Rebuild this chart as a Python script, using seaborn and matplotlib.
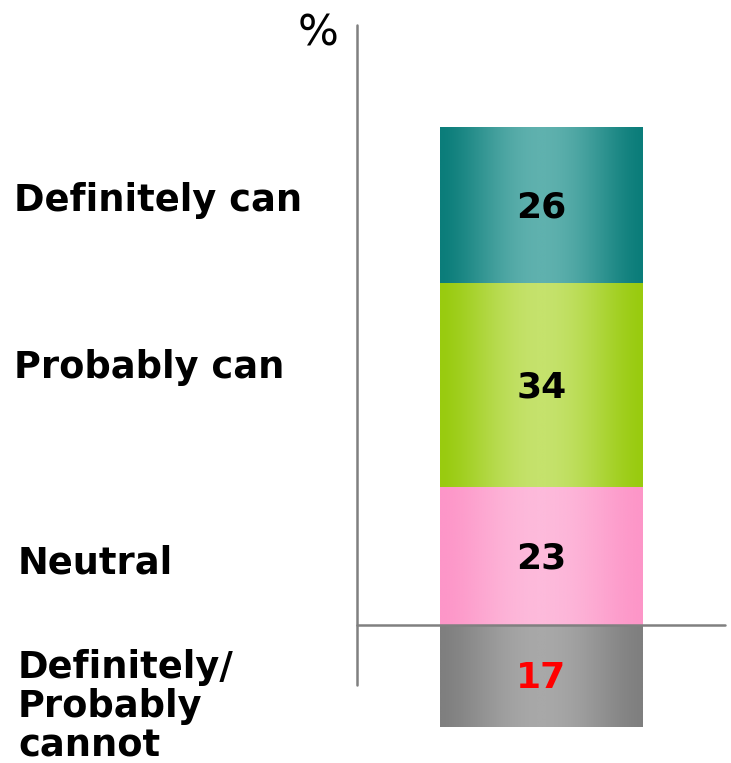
import matplotlib
matplotlib.use("Agg")
import matplotlib.pyplot as plt
import seaborn as sns
import numpy as np
from matplotlib.colors import LinearSegmentedColormap

# Data
categories = ["Definitely can", "Probably can", "Neutral", "Definitely/\nProbably\ncannot"]
values = [26, 34, 23, -17]
edge_colors = ["#0b7d7a", "#99cb0f", "#fd96c8", "#7f7f7f"]
mid_colors = ["#5fb1ae", "#c5e26c", "#fdbadb", "#a8a8a8"]
value_colors = ["black", "black", "black", "#ff0000"]
label_y = [70.8, 43.0, 10.3, -13.6]
label_x = [14, 14, 18, 18]

sns.set_style("white")
plt.rcParams["font.family"] = ["DejaVu Sans"]

fig = plt.figure(figsize=(7.31, 7.63), dpi=100)
ax = fig.add_axes([0, 0, 1, 1])

# stacked positions: positive stack from 0 upward (Neutral first), negative below
pos = [v for v in values if v > 0][::-1]          # Neutral, Probably, Definitely
cum = np.cumsum(pos)                               # 23, 57, 83
tops = list(cum[::-1]) + [values[3]]               # 83, 57, 23, -17
bottoms = list(np.concatenate([[0], cum[:-1]])[::-1]) + [0]

# draw bars largest first so smaller ones sit on top
for t, c in zip(tops, edge_colors):
    sns.barplot(x=["all"], y=[t], color=c, width=0.8, ax=ax, saturation=1)

patches = list(ax.patches)
t_grid = np.linspace(0, 1, 256)
profile = np.sin(np.pi * t_grid) ** 1.5
for p, b, t, ec, mc in zip(patches, bottoms, tops, edge_colors, mid_colors):
    x0 = p.get_x()
    w = p.get_width()
    cmap = LinearSegmentedColormap.from_list("g", [ec, mc])
    ax.imshow(profile[None, :], cmap=cmap, aspect="auto",
              extent=[x0, x0 + w, min(b, t), max(b, t)],
              vmin=0, vmax=1, zorder=2, interpolation="bilinear")
    p.set_visible(False)

# value labels
for b, t, v, vc in zip(bottoms, tops, values, value_colors):
    ax.text(0, (b + t) / 2 - 0.4, f"{abs(v)}", ha="center", va="center",
            fontsize=26, fontweight="bold", color=vc, zorder=5)

# category labels on the left
for lab, x, y in zip(categories, label_x, label_y):
    ax.text(x / 731, y, lab, transform=ax.get_yaxis_transform(),
            ha="left", va="center", fontsize=26.5, fontweight="bold",
            color="black", linespacing=1.07)

# axis lines
ax.set_xlim(-2.134, 0.747)
ax.set_ylim(-23.0, 104.17)
ax.plot([-0.727, -0.727], [-10, 100], color="#808080", lw=1.8, zorder=1)
ax.plot([-0.727, 0.723], [0, 0], color="#808080", lw=1.8, zorder=3)
ax.text(-0.80, 98.6, "%", ha="right", va="center", fontsize=31, color="black")

ax.set_axis_off()
fig.savefig("out.png", dpi=100)
